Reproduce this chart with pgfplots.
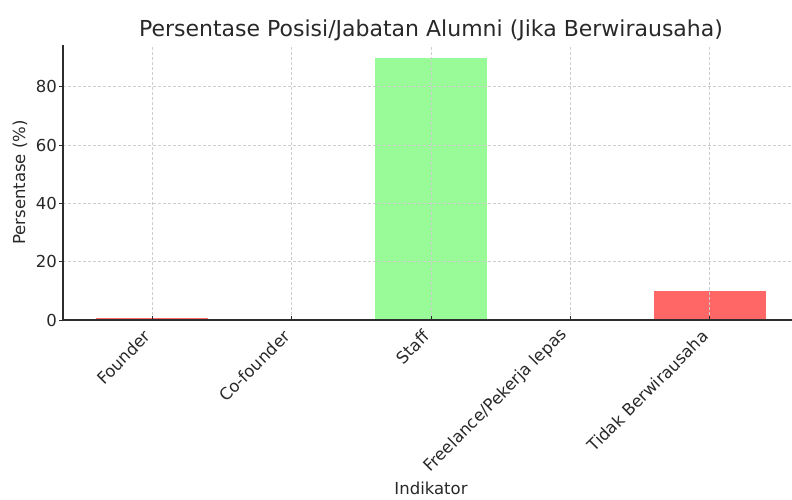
\documentclass[border=0pt]{standalone}
\usepackage{fontspec}
\setmainfont{DejaVu Sans}
\usepackage{pgfplots}
\pgfplotsset{compat=1.18}

\definecolor{barred}{RGB}{255,102,102}
\definecolor{bargreen}{RGB}{152,251,152}
\definecolor{gridgray}{RGB}{205,205,205}
\definecolor{axisgray}{RGB}{45,45,45}
\definecolor{textgray}{RGB}{40,40,40}

\begin{document}
\begin{tikzpicture}
\useasboundingbox (-63pt,-179pt) rectangle (729pt,320pt);
\begin{axis}[
  at={(0pt,0pt)}, anchor=south west,
  scale only axis, width=736pt, height=275pt,
  xmin=-0.64, xmax=4.64, ymin=0, ymax=94.3,
  axis lines=left,
  axis line style={-, axisgray, line width=1.2pt},
  axis on top,
  xtick={0,1,2,3,4},
  xticklabels={Founder, Co-founder, Staff, Freelance/Pekerja lepas, Tidak Berwirausaha},
  ytick={0,20,40,60,80},
  xtick align=inside, ytick align=outside,
  major tick length=4pt,
  tick style={axisgray, line width=1pt},
  grid=major,
  major grid style={gridgray, line width=0.8pt, dash pattern=on 3pt off 2pt},
  /pgf/number format/assume math mode=true,
  ticklabel style={font=\fontsize{16.5}{20}\selectfont, text=textgray},
  xticklabel style={yshift=-18pt, rotate=45, anchor=south east, inner sep=0pt},
  yticklabel style={inner sep=2pt},
  title={Persentase Posisi/Jabatan Alumni (Jika Berwirausaha)},
  title style={font=\fontsize{22}{26}\selectfont, text=textgray,
    at={(axis description cs:0.5,1)}, anchor=base, yshift=2pt},
  xlabel={Indikator},
  xlabel style={font=\fontsize{16.5}{20}\selectfont, text=textgray,
    at={(axis description cs:0.5,0)}, anchor=base, yshift=-174pt},
  ylabel={Persentase (\%)},
  ylabel style={font=\fontsize{16.5}{20}\selectfont, text=textgray,
    at={(axis description cs:0,0.5)}, anchor=center, yshift=43pt},
]
  \addplot[ybar, bar width=0.8, bar shift=0pt, fill=barred, draw=none]
    coordinates {(0,0.6)};
  \addplot[ybar, bar width=0.8, bar shift=0pt, fill=none, draw=none]
    coordinates {(1,0)};
  \addplot[ybar, bar width=0.8, bar shift=0pt, fill=bargreen, draw=none]
    coordinates {(2,90)};
  \addplot[ybar, bar width=0.8, bar shift=0pt, fill=none, draw=none]
    coordinates {(3,0)};
  \addplot[ybar, bar width=0.8, bar shift=0pt, fill=barred, draw=none]
    coordinates {(4,10)};
\end{axis}
\end{tikzpicture}
\end{document}
